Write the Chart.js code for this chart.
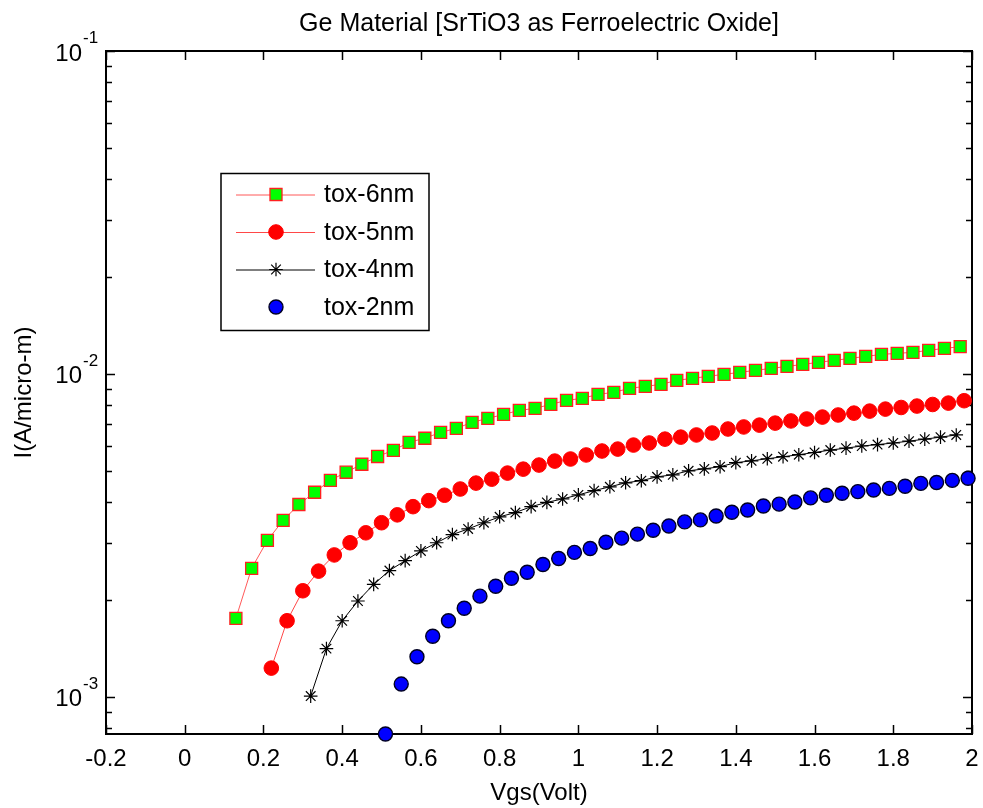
<!DOCTYPE html>
<html>
<head>
<meta charset="utf-8">
<title>Ge Material [SrTiO3 as Ferroelectric Oxide]</title>
<script src="https://cdn.jsdelivr.net/npm/chart.js@4.4.1/dist/chart.umd.min.js"></script>
<style>
  html, body { margin: 0; padding: 0; background: #ffffff; }
  #wrap { width: 983px; height: 808px; position: relative; }
</style>
</head>
<body>
<div id="wrap"><canvas id="c" width="983" height="808"></canvas></div>
<script>
// Gate voltage (V) and drain current (A/um) for each oxide thickness
const vgs6 = [0.13,0.17,0.21,0.25,0.29,0.33,0.37,0.41,0.45,0.49,
              0.53,0.57,0.61,0.65,0.69,0.73,0.77,0.81,0.85,0.89,
              0.93,0.97,1.01,1.05,1.09,1.13,1.17,1.21,1.25,1.29,
              1.33,1.37,1.41,1.45,1.49,1.53,1.57,1.61,1.65,1.69,
              1.73,1.77,1.81,1.85,1.89,1.93,1.97];
const tox6 = [1.75e-3,2.50e-3,3.05e-3,3.52e-3,3.94e-3,4.30e-3,4.68e-3,4.96e-3,5.25e-3,5.55e-3,
              5.80e-3,6.14e-3,6.32e-3,6.59e-3,6.78e-3,7.08e-3,7.28e-3,7.49e-3,7.71e-3,7.82e-3,
              8.05e-3,8.28e-3,8.40e-3,8.64e-3,8.77e-3,9.02e-3,9.15e-3,9.28e-3,9.55e-3,9.69e-3,
              9.83e-3,9.97e-3,1.011e-2,1.026e-2,1.040e-2,1.055e-2,1.070e-2,1.086e-2,1.101e-2,1.117e-2,
              1.133e-2,1.149e-2,1.158e-2,1.166e-2,1.183e-2,1.200e-2,1.214e-2];

const vgs5 = [0.22,0.26,0.30,0.34,0.38,0.42,0.46,0.50,0.54,0.58,
              0.62,0.66,0.70,0.74,0.78,0.82,0.86,0.90,0.94,0.98,
              1.02,1.06,1.10,1.14,1.18,1.22,1.26,1.30,1.34,1.38,
              1.42,1.46,1.50,1.54,1.58,1.62,1.66,1.70,1.74,1.78,
              1.82,1.86,1.90,1.94,1.98];
const tox5 = [1.227e-3,1.72e-3,2.13e-3,2.45e-3,2.75e-3,3.00e-3,3.22e-3,3.46e-3,3.66e-3,3.88e-3,
              4.05e-3,4.21e-3,4.40e-3,4.59e-3,4.72e-3,4.93e-3,5.07e-3,5.22e-3,5.37e-3,5.45e-3,
              5.61e-3,5.77e-3,5.85e-3,6.02e-3,6.11e-3,6.28e-3,6.37e-3,6.47e-3,6.56e-3,6.75e-3,
              6.85e-3,6.94e-3,7.04e-3,7.15e-3,7.25e-3,7.35e-3,7.46e-3,7.56e-3,7.67e-3,7.78e-3,
              7.87e-3,7.95e-3,8.04e-3,8.12e-3,8.26e-3];

const vgs4 = [0.32,0.36,0.40,0.44,0.48,0.52,0.56,0.60,0.64,0.68,
              0.72,0.76,0.80,0.84,0.88,0.92,0.96,1.00,1.04,1.08,
              1.12,1.16,1.20,1.24,1.28,1.32,1.36,1.40,1.44,1.48,
              1.52,1.56,1.60,1.64,1.68,1.72,1.76,1.80,1.84,1.88,
              1.92,1.96];
const tox4 = [1.005e-3,1.41e-3,1.72e-3,1.98e-3,2.23e-3,2.46e-3,2.64e-3,2.83e-3,3.00e-3,3.18e-3,
              3.31e-3,3.46e-3,3.61e-3,3.72e-3,3.88e-3,4.00e-3,4.10e-3,4.22e-3,4.35e-3,4.47e-3,
              4.60e-3,4.67e-3,4.80e-3,4.87e-3,5.01e-3,5.08e-3,5.16e-3,5.31e-3,5.38e-3,5.46e-3,
              5.54e-3,5.62e-3,5.71e-3,5.81e-3,5.89e-3,5.98e-3,6.04e-3,6.11e-3,6.19e-3,6.28e-3,
              6.37e-3,6.47e-3];

const vgs2 = [0.51,0.55,0.59,0.63,0.67,0.71,0.75,0.79,0.83,0.87,
              0.91,0.95,0.99,1.03,1.07,1.11,1.15,1.19,1.23,1.27,
              1.31,1.35,1.39,1.43,1.47,1.51,1.55,1.59,1.63,1.67,
              1.71,1.75,1.79,1.83,1.87,1.91,1.95,1.99];
const tox2 = [7.67e-4,1.095e-3,1.33e-3,1.54e-3,1.72e-3,1.88e-3,2.05e-3,2.20e-3,2.33e-3,2.43e-3,
              2.57e-3,2.68e-3,2.80e-3,2.88e-3,3.01e-3,3.10e-3,3.19e-3,3.28e-3,3.38e-3,3.48e-3,
              3.53e-3,3.63e-3,3.73e-3,3.79e-3,3.90e-3,3.95e-3,4.01e-3,4.13e-3,4.21e-3,4.27e-3,
              4.32e-3,4.37e-3,4.42e-3,4.49e-3,4.58e-3,4.61e-3,4.68e-3,4.75e-3];

const seriesNames = ['tox-6nm', 'tox-5nm', 'tox-4nm', 'tox-2nm'];

// Axis ranges and tick labels
const xTicks = [-0.2, 0, 0.2, 0.4, 0.6, 0.8, 1, 1.2, 1.4, 1.6, 1.8, 2];
const xTickLabels = ['-0.2', '0', '0.2', '0.4', '0.6', '0.8', '1', '1.2', '1.4', '1.6', '1.8', '2'];
const yDecades = [1e-3, 1e-2, 1e-1];
const yDecadeExponents = ['-3', '-2', '-1'];
const yMin = 7.67e-4, yMax = 1e-1;
const xMin = -0.2, xMax = 2;

const titleText = 'Ge Material [SrTiO3 as Ferroelectric Oxide]';
const xTitle = 'Vgs(Volt)';
const yTitle = 'I(A/micro-m)';

const FONT = '"Liberation Sans", Arial, Helvetica, sans-serif';

function pts(xs, ys) { return xs.map((x, i) => ({ x: x, y: ys[i] })); }

const datasets = [
  { label: seriesNames[0], data: pts(vgs6, tox6), showLine: true,
    borderColor: 'rgba(255,60,60,0.85)', borderWidth: 1,
    pointStyle: 'rect', pointRadius: 8.5, pointHoverRadius: 8.5,
    pointBackgroundColor: '#00ff00', pointBorderColor: '#ff2020', pointBorderWidth: 1.3 },
  { label: seriesNames[1], data: pts(vgs5, tox5), showLine: true,
    borderColor: 'rgba(255,40,40,0.85)', borderWidth: 1,
    pointStyle: 'circle', pointRadius: 7.3, pointHoverRadius: 7.3,
    pointBackgroundColor: '#ff0000', pointBorderColor: '#ff0000', pointBorderWidth: 1 },
  { label: seriesNames[2], data: pts(vgs4, tox4), showLine: true,
    borderColor: '#000000', borderWidth: 1,
    pointStyle: 'star', pointRadius: 6.8, pointHoverRadius: 6.8,
    pointBackgroundColor: '#000000', pointBorderColor: '#000000', pointBorderWidth: 1.2 },
  { label: seriesNames[3], data: pts(vgs2, tox2), showLine: false,
    borderColor: '#000000', borderWidth: 0,
    pointStyle: 'circle', pointRadius: 7, pointHoverRadius: 7,
    pointBackgroundColor: '#0000ff', pointBorderColor: '#000022', pointBorderWidth: 1.4 }
];

// Draws one legend marker in the same style as a dataset's points
function drawMarker(ctx, ds, x, y) {
  ctx.save();
  ctx.fillStyle = ds.pointBackgroundColor;
  ctx.strokeStyle = ds.pointBorderColor;
  ctx.lineWidth = ds.pointBorderWidth;
  const r = ds.pointRadius;
  ctx.beginPath();
  if (ds.pointStyle === 'rect') {
    const s = Math.SQRT1_2 * r;
    ctx.rect(x - s, y - s, 2 * s, 2 * s);
    ctx.fill(); ctx.stroke();
  } else if (ds.pointStyle === 'circle') {
    ctx.arc(x, y, r, 0, Math.PI * 2);
    ctx.fill(); ctx.stroke();
  } else if (ds.pointStyle === 'star') {
    for (let k = 0; k < 4; k++) {
      const a = k * Math.PI / 4;
      ctx.moveTo(x - Math.cos(a) * r, y - Math.sin(a) * r);
      ctx.lineTo(x + Math.cos(a) * r, y + Math.sin(a) * r);
    }
    ctx.stroke();
  }
  ctx.restore();
}

const matlabAxes = {
  id: 'matlabAxes',
  beforeDatasetsDraw(chart) {
    const { ctx, chartArea: a, scales } = chart;
    const xs = scales.x, ys = scales.y;
    ctx.save();
    ctx.strokeStyle = '#000';
    // inward tick marks on all four sides
    ctx.lineWidth = 1.5;
    ctx.beginPath();
    xTicks.forEach(v => {
      const px = Math.round(xs.getPixelForValue(v)) + 0.5;
      ctx.moveTo(px, a.bottom); ctx.lineTo(px, a.bottom - 9);
      ctx.moveTo(px, a.top); ctx.lineTo(px, a.top + 9);
    });
    const decStart = Math.floor(Math.log10(yMin));
    for (let d = decStart; d <= Math.log10(yMax); d++) {
      for (let m = 1; m <= 9; m++) {
        const v = m * Math.pow(10, d);
        if (v < yMin * 0.999 || v > yMax * 1.001) continue;
        const py = Math.round(ys.getPixelForValue(v)) + 0.5;
        const len = m === 1 ? 9 : 6;
        ctx.moveTo(a.left, py); ctx.lineTo(a.left + len, py);
        ctx.moveTo(a.right, py); ctx.lineTo(a.right - len, py);
      }
    }
    ctx.stroke();
    // axes box
    ctx.lineWidth = 2;
    ctx.strokeRect(a.left, a.top, a.right - a.left, a.bottom - a.top);
    ctx.restore();
  },
  afterDraw(chart) {
    const { ctx, chartArea: a, scales } = chart;
    const xs = scales.x, ys = scales.y;
    ctx.save();
    ctx.fillStyle = '#000';

    // x tick labels
    ctx.font = '24px ' + FONT;
    ctx.textAlign = 'center';
    ctx.textBaseline = 'alphabetic';
    xTicks.forEach((v, i) => {
      ctx.fillText(xTickLabels[i], xs.getPixelForValue(v), a.bottom + 32);
    });

    // y tick labels: 10 with a raised exponent
    yDecades.forEach((v, i) => {
      const py = ys.getPixelForValue(v);
      ctx.font = '24px ' + FONT;
      ctx.textAlign = 'right';
      ctx.fillText('10', a.left - 24, py + 9.5);
      ctx.font = '17px ' + FONT;
      ctx.textAlign = 'left';
      ctx.fillText(yDecadeExponents[i], a.left - 23, py - 8);
    });

    // titles
    const cx = (a.left + a.right) / 2;
    ctx.font = '25px ' + FONT;
    ctx.textAlign = 'center';
    ctx.fillText(titleText, cx, 31);
    ctx.font = '24px ' + FONT;
    ctx.fillText(xTitle, cx, 800);
    ctx.save();
    ctx.translate(31, (a.top + a.bottom) / 2);
    ctx.rotate(-Math.PI / 2);
    ctx.fillText(yTitle, 0, 0);
    ctx.restore();

    // legend box
    const L = { x: 221, y: 173.5, w: 208, h: 157, rows: [194.5, 232, 269.5, 307] };
    ctx.fillStyle = '#fff';
    ctx.fillRect(L.x, L.y, L.w, L.h);
    ctx.strokeStyle = '#000';
    ctx.lineWidth = 1.5;
    ctx.strokeRect(L.x, L.y, L.w, L.h);
    chart.data.datasets.forEach((ds, i) => {
      const ry = L.rows[i];
      if (ds.showLine) {
        ctx.save();
        ctx.strokeStyle = ds.borderColor;
        ctx.lineWidth = ds.borderWidth;
        ctx.beginPath();
        ctx.moveTo(236, ry + 0.5); ctx.lineTo(315, ry + 0.5);
        ctx.stroke();
        ctx.restore();
      }
      drawMarker(ctx, ds, 276, ry);
      ctx.fillStyle = '#000';
      ctx.font = '25px ' + FONT;
      ctx.textAlign = 'left';
      ctx.textBaseline = 'middle';
      ctx.fillText(ds.label, 324, ry + 1);
    });
    ctx.restore();
  }
};

new Chart(document.getElementById('c'), {
  type: 'scatter',
  data: { datasets: datasets },
  options: {
    responsive: false,
    animation: false,
    devicePixelRatio: 1,
    layout: { padding: { left: 106, top: 51, right: 11, bottom: 74 } },
    plugins: { legend: { display: false }, tooltip: { enabled: false }, title: { display: false } },
    elements: { line: { tension: 0 } },
    datasets: { scatter: { clip: false } },
    scales: {
      x: { type: 'linear', min: xMin, max: xMax, display: false },
      y: { type: 'logarithmic', min: yMin, max: yMax, display: false }
    }
  },
  plugins: [matlabAxes]
});
</script>
</body>
</html>
